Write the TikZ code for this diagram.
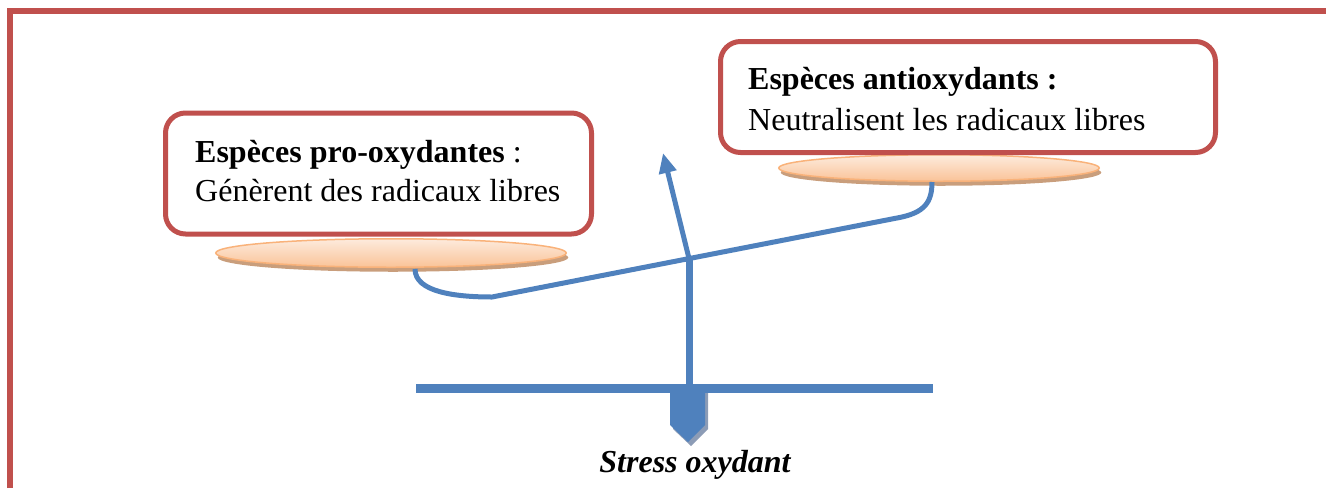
\documentclass[tikz,border=0pt]{standalone}
\usepackage{fontspec}
\setmainfont{Liberation Serif}
\usetikzlibrary{shapes.geometric,arrows.meta,shadows}
\definecolor{frameRed}{HTML}{C0504D}
\definecolor{beamBlue}{HTML}{4F81BD}
\definecolor{plateTop}{HTML}{FDEBDD}
\definecolor{plateBot}{HTML}{FAC398}
\definecolor{plateEdge}{HTML}{F9B27A}
\definecolor{plateShadow}{HTML}{C99E7C}
\definecolor{tipShadow}{HTML}{8C9CB6}
\begin{document}
\begin{tikzpicture}[x=1pt,y=-1pt,
  labelbox/.style={draw=frameRed, line width=5pt, rounded corners=20pt, fill=white, inner sep=0pt},
  boxtext/.style={font=\fontsize{32}{40}\selectfont, inner sep=0pt, anchor=base west},
  plate/.style={ellipse, inner sep=0pt, top color=plateTop, bottom color=plateBot,
    draw=plateEdge, line width=1.5pt,
    drop shadow={shadow xshift=2pt, shadow yshift=-4.5pt, fill=plateShadow, opacity=1}},
  beam/.style={draw=beamBlue, line width=5pt, line join=round},
  framepen/.style={draw=frameRed, line width=6pt, line join=miter},
  bigtext/.style={font=\fontsize{32}{40}\selectfont\bfseries\itshape, inner sep=0pt},
]
\useasboundingbox (0,0) rectangle (1326,488);
% frame
\draw[framepen] (10,488) -- (10,11) -- (1326,11);

% plates
\node[plate, minimum width=350.5pt, minimum height=28.5pt] (lplate) at (391,253) {};
\node[plate, minimum width=320.5pt, minimum height=26.5pt] (rplate) at (939,168) {};

% boxes
\node[labelbox, minimum width=426pt, minimum height=121pt] (pro) at (378.5,173.5) {};
\node[boxtext] (protitle) at (195,162) {\textbf{Espèces pro-oxydantes} :};
\node[boxtext] (protext) at (195,201) {Génèrent des radicaux libres};

\node[labelbox, minimum width=495pt, minimum height=111pt] (anti) at (968,97) {};
\node[boxtext] (antititle) at (748,89) {\textbf{Espèces antioxydants :}};
\node[boxtext] (antitext) at (748,130) {Neutralisent les radicaux libres};

% beam
\coordinate (lhook) at (415,269);
\coordinate (lbend) at (492,297);
\coordinate (rbend) at (897,218);
\coordinate (rhook) at (932,182);
\coordinate (pivot) at (689,258.5);
\coordinate (arrowtip) at (663,153);
\coordinate (postfoot) at (689,388);
\coordinate (baseL) at (416,388.5);
\coordinate (baseR) at (933,388.5);

\draw[beam] (lhook) .. controls (415,292) and (455,297) .. (lbend) -- (rbend)
  .. controls (925,213) and (932,202) .. (rhook);
\draw[beam, -{Triangle[length=20pt,width=17pt]}] (pivot) -- (arrowtip);
\draw[beam, line width=7pt] (postfoot) -- (pivot);
\draw[beam, line width=9pt, line join=miter] (baseL) -- (baseR);

% pointer below base
\fill[tipShadow] (673,393) -- (708,393) -- (708,429) -- (691,446) -- (673,429) -- cycle;
\fill[beamBlue] (670,389) -- (705,389) -- (705,425) -- (688,442) -- (670,425) -- cycle;

\node[bigtext, anchor=base] (stress) at (695,472) {Stress oxydant};
\end{tikzpicture}
\end{document}
